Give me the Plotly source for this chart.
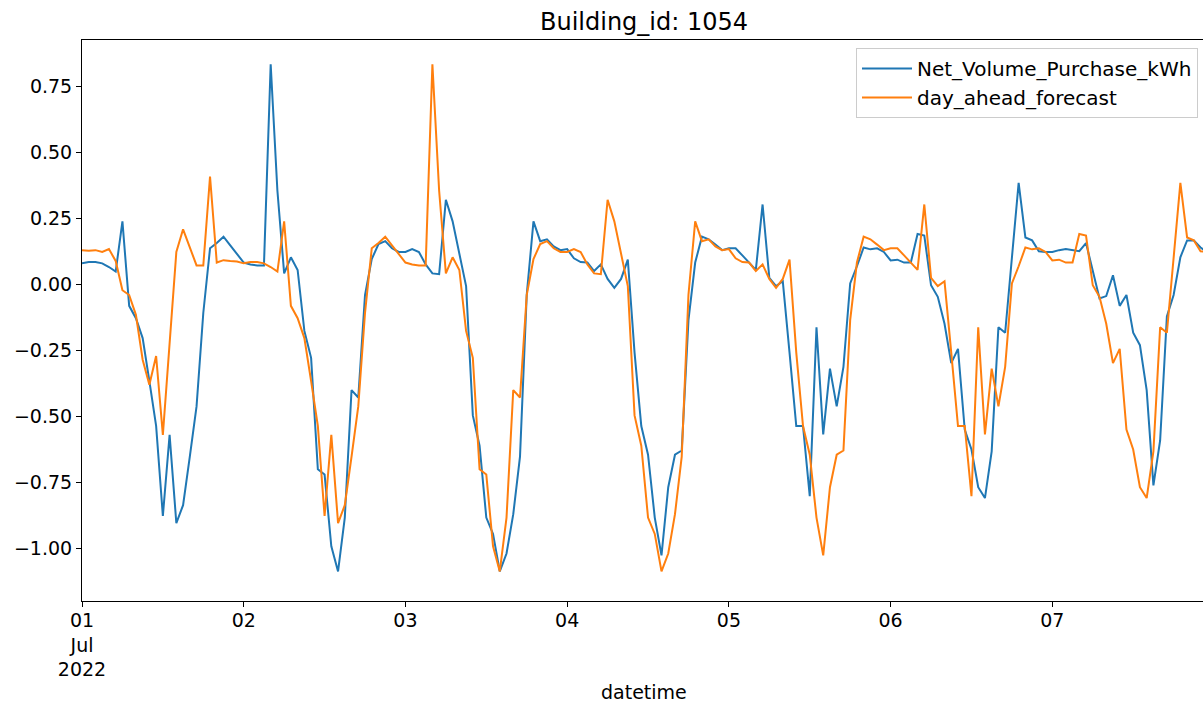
import pandas as pd
import plotly.graph_objects as go

# ---- data (hourly, 2022-07-01 00:00 onward) ----
start_time = "2022-07-01 00:00"

net_volume_purchase_kwh = [
    # Jul 01
    0.079, 0.084, 0.084, 0.079, 0.065, 0.048, 0.238, -0.082, -0.129, -0.204, -0.367, -0.537,
    -0.878, -0.571, -0.905, -0.837, -0.653, -0.463, -0.109, 0.136, 0.156, 0.180, 0.147, 0.113,
    # Jul 02
    0.082, 0.075, 0.071, 0.071, 0.833, 0.354, 0.041, 0.102, 0.054, -0.177, -0.279, -0.701,
    -0.721, -0.993, -1.088, -0.884, -0.401, -0.429, -0.041, 0.095, 0.152, 0.163, 0.136, 0.122,
    # Jul 03
    0.122, 0.133, 0.122, 0.075, 0.041, 0.038, 0.320, 0.238, 0.122, -0.007, -0.497, -0.612,
    -0.884, -0.946, -1.088, -1.020, -0.871, -0.653, -0.040, 0.238, 0.163, 0.170, 0.143, 0.129,
    # Jul 04
    0.133, 0.098, 0.084, 0.082, 0.050, 0.075, 0.020, -0.014, 0.020, 0.093, -0.259, -0.537,
    -0.646, -0.884, -1.027, -0.769, -0.646, -0.630, -0.136, 0.082, 0.180, 0.170, 0.150, 0.129,
    # Jul 05
    0.136, 0.136, 0.109, 0.082, 0.054, 0.302, 0.024, -0.007, 0.011, -0.259, -0.537, -0.537,
    -0.803, -0.163, -0.569, -0.320, -0.463, -0.313, 0.003, 0.068, 0.139, 0.132, 0.136, 0.122,
    # Jul 06
    0.090, 0.093, 0.082, 0.082, 0.190, 0.184, -0.004, -0.048, -0.150, -0.299, -0.245, -0.551,
    -0.626, -0.769, -0.810, -0.633, -0.163, -0.184, 0.095, 0.384, 0.177, 0.166, 0.125, 0.122,
    # Jul 07
    0.122, 0.129, 0.133, 0.129, 0.125, 0.156, 0.048, -0.054, -0.045, 0.034, -0.082, -0.041,
    -0.184, -0.231, -0.401, -0.762, -0.592, -0.122, -0.041, 0.102, 0.166, 0.166, 0.139, 0.120,
]

day_ahead_forecast = [
    # Jul 01
    0.129, 0.127, 0.129, 0.122, 0.133, 0.088, -0.023, -0.041, -0.116, -0.286, -0.381, -0.272,
    -0.571, -0.224, 0.122, 0.208, 0.143, 0.071, 0.071, 0.408, 0.082, 0.091, 0.088, 0.086,
    # Jul 02
    0.079, 0.084, 0.084, 0.079, 0.065, 0.048, 0.238, -0.082, -0.129, -0.204, -0.367, -0.537,
    -0.878, -0.571, -0.905, -0.837, -0.653, -0.463, -0.109, 0.136, 0.156, 0.180, 0.147, 0.113,
    # Jul 03
    0.082, 0.075, 0.071, 0.071, 0.833, 0.354, 0.041, 0.102, 0.054, -0.177, -0.279, -0.701,
    -0.721, -0.993, -1.088, -0.884, -0.401, -0.429, -0.041, 0.095, 0.152, 0.163, 0.136, 0.122,
    # Jul 04
    0.122, 0.133, 0.122, 0.075, 0.041, 0.038, 0.320, 0.238, 0.122, -0.007, -0.497, -0.612,
    -0.884, -0.946, -1.088, -1.020, -0.871, -0.653, -0.040, 0.238, 0.163, 0.170, 0.143, 0.129,
    # Jul 05
    0.133, 0.098, 0.084, 0.082, 0.050, 0.075, 0.020, -0.014, 0.020, 0.093, -0.259, -0.537,
    -0.646, -0.884, -1.027, -0.769, -0.646, -0.630, -0.136, 0.082, 0.180, 0.170, 0.150, 0.129,
    # Jul 06
    0.136, 0.136, 0.109, 0.082, 0.054, 0.302, 0.024, -0.007, 0.011, -0.259, -0.537, -0.537,
    -0.803, -0.163, -0.569, -0.320, -0.463, -0.313, 0.003, 0.068, 0.139, 0.132, 0.136, 0.122,
    # Jul 07
    0.090, 0.093, 0.082, 0.082, 0.190, 0.184, -0.004, -0.048, -0.150, -0.299, -0.245, -0.551,
    -0.626, -0.769, -0.810, -0.633, -0.163, -0.184, 0.095, 0.384, 0.177, 0.166, 0.125, 0.122,
]

x_tick_dates = ["2022-07-01", "2022-07-02", "2022-07-03", "2022-07-04",
                "2022-07-05", "2022-07-06", "2022-07-07"]
x_tick_labels = ["01<br>Jul<br>2022", "02", "03", "04", "05", "06", "07"]

y_tick_values = [0.75, 0.50, 0.25, 0.00, -0.25, -0.50, -0.75, -1.00]
y_tick_labels = ["0.75", "0.50", "0.25", "0.00", "\u22120.25", "\u22120.50", "\u22120.75", "\u22121.00"]

title_text = "Building_id: 1054"
x_label = "datetime"

# ---- figure ----
times = pd.date_range(start_time, periods=len(net_volume_purchase_kwh), freq="h")

FONT = "DejaVu Sans"
fig = go.Figure()
fig.add_trace(go.Scatter(x=times, y=net_volume_purchase_kwh, mode="lines",
                         name="Net_Volume_Purchase_kWh", legendgroup="a",
                         line=dict(color="#1f77b4", width=2)))
fig.add_trace(go.Scatter(x=times, y=day_ahead_forecast, mode="lines",
                         name="day_ahead_forecast", legendgroup="b",
                         line=dict(color="#ff7f0e", width=2)))

W, H = 1203, 705
L, T, B = 82, 40, 601
fig.update_layout(
    width=W, height=H,
    margin=dict(l=L, r=0, t=T, b=H - B, pad=0),
    paper_bgcolor="white", plot_bgcolor="white",
    font=dict(family=FONT, size=19, color="black"),
    title=dict(text=title_text, font=dict(family=FONT, size=24, color="black"),
               x=644 / W, xref="container", xanchor="center",
               y=1 - 22 / H, yref="container", yanchor="middle"),
    showlegend=True,
    legend=dict(x=(1198 - L) / (W - L), xanchor="right",
                y=(B - 48) / (B - T), yanchor="top",
                bgcolor="rgba(255,255,255,0.8)", bordercolor="#cccccc", borderwidth=1,
                font=dict(family=FONT, size=20, color="black"),
                itemwidth=50, tracegroupgap=6, traceorder="normal"),
    xaxis=dict(range=["2022-07-01 00:00", "2022-07-07 22:21:36"],
               tickvals=x_tick_dates, ticktext=x_tick_labels,
               ticks="outside", ticklen=5, tickcolor="black", tickwidth=1,
               showline=True, linecolor="black", linewidth=1, mirror=True,
               showgrid=False, zeroline=False, ticklabelstandoff=-3,
               tickfont=dict(family=FONT, size=19, color="black")),
    yaxis=dict(range=[-1.2, 0.925],
               tickvals=y_tick_values, ticktext=y_tick_labels,
               ticks="outside", ticklen=5, tickcolor="black", tickwidth=1,
               showline=True, linecolor="black", linewidth=1, mirror=False,
               showgrid=False, zeroline=False,
               tickfont=dict(family=FONT, size=19, color="black")),
    annotations=[dict(text=x_label, xref="paper", yref="paper",
                      x=(644 - L) / (W - L), y=(B - 692) / (B - T),
                      xanchor="center", yanchor="middle", showarrow=False,
                      font=dict(family=FONT, size=19, color="black"))],
)

fig.write_html("out.html")
